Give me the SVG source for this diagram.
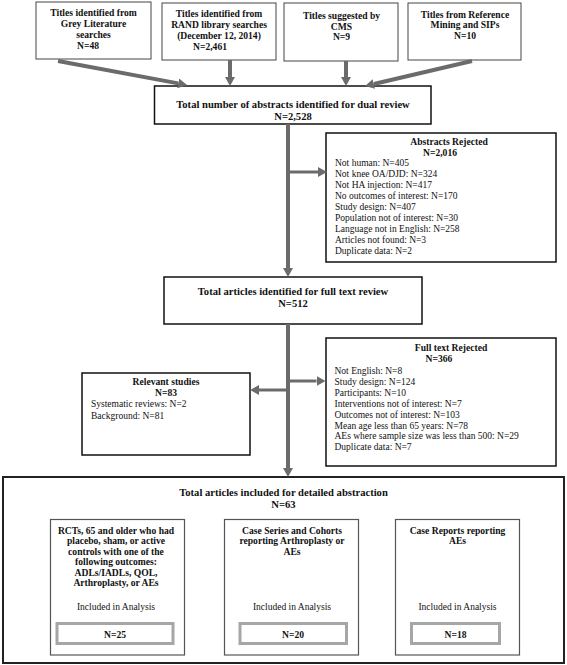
<svg xmlns="http://www.w3.org/2000/svg" width="567" height="665" viewBox="0 0 567 665">
<style>
text{font-family:"Liberation Serif","Times New Roman",serif;fill:#111}
.b{font-weight:bold;font-size:9.6px}
.h{font-weight:bold;font-size:10.6px}
.r{font-size:9.5px}
.c{text-anchor:middle}
.top{fill:#fff;stroke:#444;stroke-width:1}
.box{fill:#fff;stroke:#111;stroke-width:1.5}
.big{fill:#fff;stroke:#222;stroke-width:2}
.sub{fill:#fff;stroke:#555;stroke-width:1.2}
.nbox{fill:#fff;stroke:#a6a6a6;stroke-width:3}
.con{fill:none;stroke:#6b6b6b;stroke-width:4}
.br{fill:none;stroke:#6b6b6b;stroke-width:3}
</style>
<defs>
<marker id="ah" viewBox="0 0 9 10" refX="0" refY="5" markerWidth="9" markerHeight="10" markerUnits="userSpaceOnUse" orient="auto">
<path d="M0,0 L9,5 L0,10 z" fill="#6b6b6b"/>
</marker>
</defs>
<rect width="567" height="665" fill="#fff"/>

<g id="n-grey">
<rect class="top" x="36" y="2" width="115" height="57"/>
<text class="b c" x="93.5" y="15.5">Titles identified from</text>
<text class="b c" x="93.5" y="27">Grey Literature</text>
<text class="b c" x="93.5" y="38">searches</text>
<text class="b c" x="88" y="49">N=48</text>
</g>
<g id="n-rand">
<rect class="top" x="162" y="3" width="114" height="57"/>
<text class="b c" x="219" y="16.5">Titles identified from</text>
<text class="b c" x="219" y="28">RAND library searches</text>
<text class="b c" x="219" y="38.5">(December 12, 2014)</text>
<text class="b c" x="210" y="49.5">N=2,461</text>
</g>
<g id="n-cms">
<rect class="top" x="284" y="3" width="114" height="58"/>
<text class="b c" x="341.5" y="18.5">Titles suggested by</text>
<text class="b c" x="341.5" y="29.5">CMS</text>
<text class="b c" x="341.5" y="39.5">N=9</text>
</g>
<g id="n-ref">
<rect class="top" x="408" y="3" width="113" height="57"/>
<text class="b c" x="465" y="17.5">Titles from Reference</text>
<text class="b c" x="465" y="28">Mining and SIPs</text>
<text class="b c" x="465" y="38.5">N=10</text>
</g>

<g id="n-total">
<rect class="box" x="154.5" y="86" width="276.5" height="38"/>
<text class="h c" x="293" y="108">Total number of abstracts identified for dual review</text>
<text class="h c" x="293" y="119.5">N=2,528</text>
</g>

<g id="n-absrej">
<rect class="box" x="326" y="133" width="230" height="129"/>
<text class="b c" x="449" y="145">Abstracts Rejected</text>
<text class="b c" x="440" y="156">N=2,016</text>
<text class="r" x="335" y="166">Not human: N=405</text>
<text class="r" x="335" y="177">Not knee OA/DJD: N=324</text>
<text class="r" x="335" y="188">Not HA injection: N=417</text>
<text class="r" x="335" y="199">No outcomes of interest: N=170</text>
<text class="r" x="335" y="210">Study design: N=407</text>
<text class="r" x="335" y="221">Population not of interest: N=30</text>
<text class="r" x="335" y="232">Language not in English: N=258</text>
<text class="r" x="335" y="243">Articles not found: N=3</text>
<text class="r" x="335" y="254">Duplicate data: N=2</text>
</g>

<g id="n-fulltext">
<rect class="box" x="164" y="277" width="258" height="47"/>
<text class="h c" x="293" y="295">Total articles identified for full text review</text>
<text class="h c" x="293" y="306.5">N=512</text>
</g>

<g id="n-relevant">
<rect class="box" x="82" y="373" width="168" height="82"/>
<text class="b c" x="166" y="385">Relevant studies</text>
<text class="b c" x="166" y="395.5">N=83</text>
<text class="r" x="91" y="407">Systematic reviews: N=2</text>
<text class="r" x="91" y="418.5">Background: N=81</text>
</g>

<g id="n-ftrej">
<rect class="box" x="326" y="338" width="230" height="128"/>
<text class="b c" x="451" y="351">Full text Rejected</text>
<text class="b c" x="439" y="362">N=366</text>
<text class="r" x="334.5" y="374">Not English: N=8</text>
<text class="r" x="334.5" y="385">Study design: N=124</text>
<text class="r" x="334.5" y="396">Participants: N=10</text>
<text class="r" x="334.5" y="406.5">Interventions not of interest: N=7</text>
<text class="r" x="334.5" y="417.5">Outcomes not of interest: N=103</text>
<text class="r" x="334.5" y="428.5">Mean age less than 65 years: N=78</text>
<text class="r" x="334.5" y="439">AEs where sample size was less than 500: N=29</text>
<text class="r" x="334.5" y="450">Duplicate data: N=7</text>
</g>

<g id="n-included">
<rect class="big" x="3" y="477" width="561" height="186"/>
<text class="h c" x="283.5" y="496">Total articles included for detailed abstraction</text>
<text class="h c" x="283.5" y="508">N=63</text>
</g>

<g id="n-rcts">
<rect class="sub" x="50.5" y="519.5" width="134" height="135.5"/>
<text class="b c" x="116" y="533.5">RCTs, 65 and older who had</text>
<text class="b c" x="116" y="544">placebo, sham, or active</text>
<text class="b c" x="116" y="554.5">controls with one of the</text>
<text class="b c" x="116" y="565">following outcomes:</text>
<text class="b c" x="116" y="575.5">ADLs/IADLs, QOL,</text>
<text class="b c" x="116" y="586">Arthroplasty, or AEs</text>
<text class="r c" x="116" y="609.5">Included in Analysis</text>
<rect class="nbox" x="57" y="623.5" width="116" height="20"/>
<text class="b c" x="115" y="637.5">N=25</text>
</g>

<g id="n-series">
<rect class="sub" x="224.5" y="519.5" width="134" height="135.5"/>
<text class="b c" x="292" y="533.5">Case Series and Cohorts</text>
<text class="b c" x="292" y="544">reporting Arthroplasty or</text>
<text class="b c" x="292" y="554.5">AEs</text>
<text class="r c" x="292" y="609.5">Included in Analysis</text>
<rect class="nbox" x="240" y="623.5" width="106.5" height="20"/>
<text class="b c" x="293" y="637.5">N=20</text>
</g>

<g id="n-reports">
<rect class="sub" x="395.5" y="519.5" width="124" height="135.5"/>
<text class="b c" x="457.5" y="533.5">Case Reports reporting</text>
<text class="b c" x="457.5" y="544">AEs</text>
<text class="r c" x="457.5" y="609.5">Included in Analysis</text>
<rect class="nbox" x="411.5" y="623.5" width="88" height="20"/>
<text class="b c" x="455.5" y="637.5">N=18</text>
</g>

<g id="connectors">
<path class="con" d="M58,61 L178.2,83.4" marker-end="url(#ah)"/>
<path class="con" d="M230,60 L230,77" marker-end="url(#ah)"/>
<path class="con" d="M346,61 L346,77" marker-end="url(#ah)"/>
<path class="con" d="M472,61 L373.8,84" marker-end="url(#ah)"/>
<path class="con" d="M288,124 L288,268" marker-end="url(#ah)"/>
<path class="br" d="M288,172 L318,172" marker-end="url(#ah)"/>
<path class="con" d="M288,324 L288,468" marker-end="url(#ah)"/>
<path class="br" d="M288,381 L316.5,381" marker-end="url(#ah)"/>
<path class="br" d="M288,390 L259,390" marker-end="url(#ah)"/>
</g>
</svg>
